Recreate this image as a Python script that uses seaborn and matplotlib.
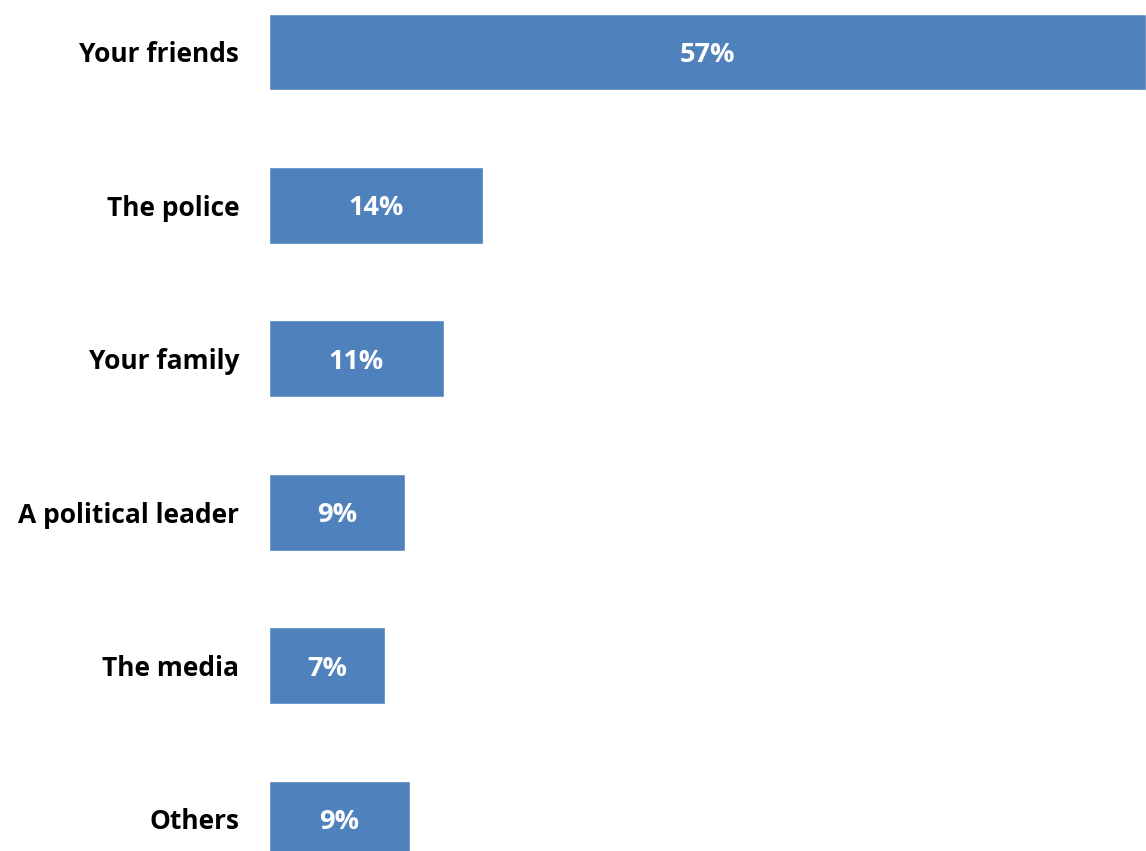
import matplotlib
matplotlib.use("Agg")
import matplotlib.pyplot as plt
import seaborn as sns
import pandas as pd

# values (bars drawn from unrounded shares)
categories = ["Your friends", "The police", "Your family", "A political leader", "The media", "Others"]
shares = [56.6, 13.8, 11.3, 8.8, 7.5, 9.1]
share_labels = ["57%", "14%", "11%", "9%", "7%", "9%"]

df = pd.DataFrame({"category": categories, "share": shares})

sns.set_theme(style="white")
plt.rcParams["font.family"] = ["Open Sans", "DejaVu Sans"]

fig = plt.figure(figsize=(11.46, 8.51), dpi=100)
ax = fig.add_axes([269 / 1146, 0, 1 - 269 / 1146, 1])

sns.barplot(data=df, x="share", y="category", orient="h", color="#4F81BD",
            saturation=1, width=0.5, ax=ax)

for i, (v, lab) in enumerate(zip(shares, share_labels)):
    ax.text(v / 2, i, lab, ha="center", va="center_baseline", color="white",
            fontsize=19.5, fontweight="bold")

ax.set_xlim(0, 56.6)
ax.set_ylim(5.209, -0.339)
ax.set_xlabel("")
ax.set_ylabel("")
ax.set_xticks([])
ax.tick_params(axis="y", length=0, pad=21.5, labelsize=19, labelcolor="black")
for lab in ax.get_yticklabels():
    lab.set_fontweight("bold")
sns.despine(ax=ax, left=True, bottom=True)

fig.savefig("out.png", dpi=100)
